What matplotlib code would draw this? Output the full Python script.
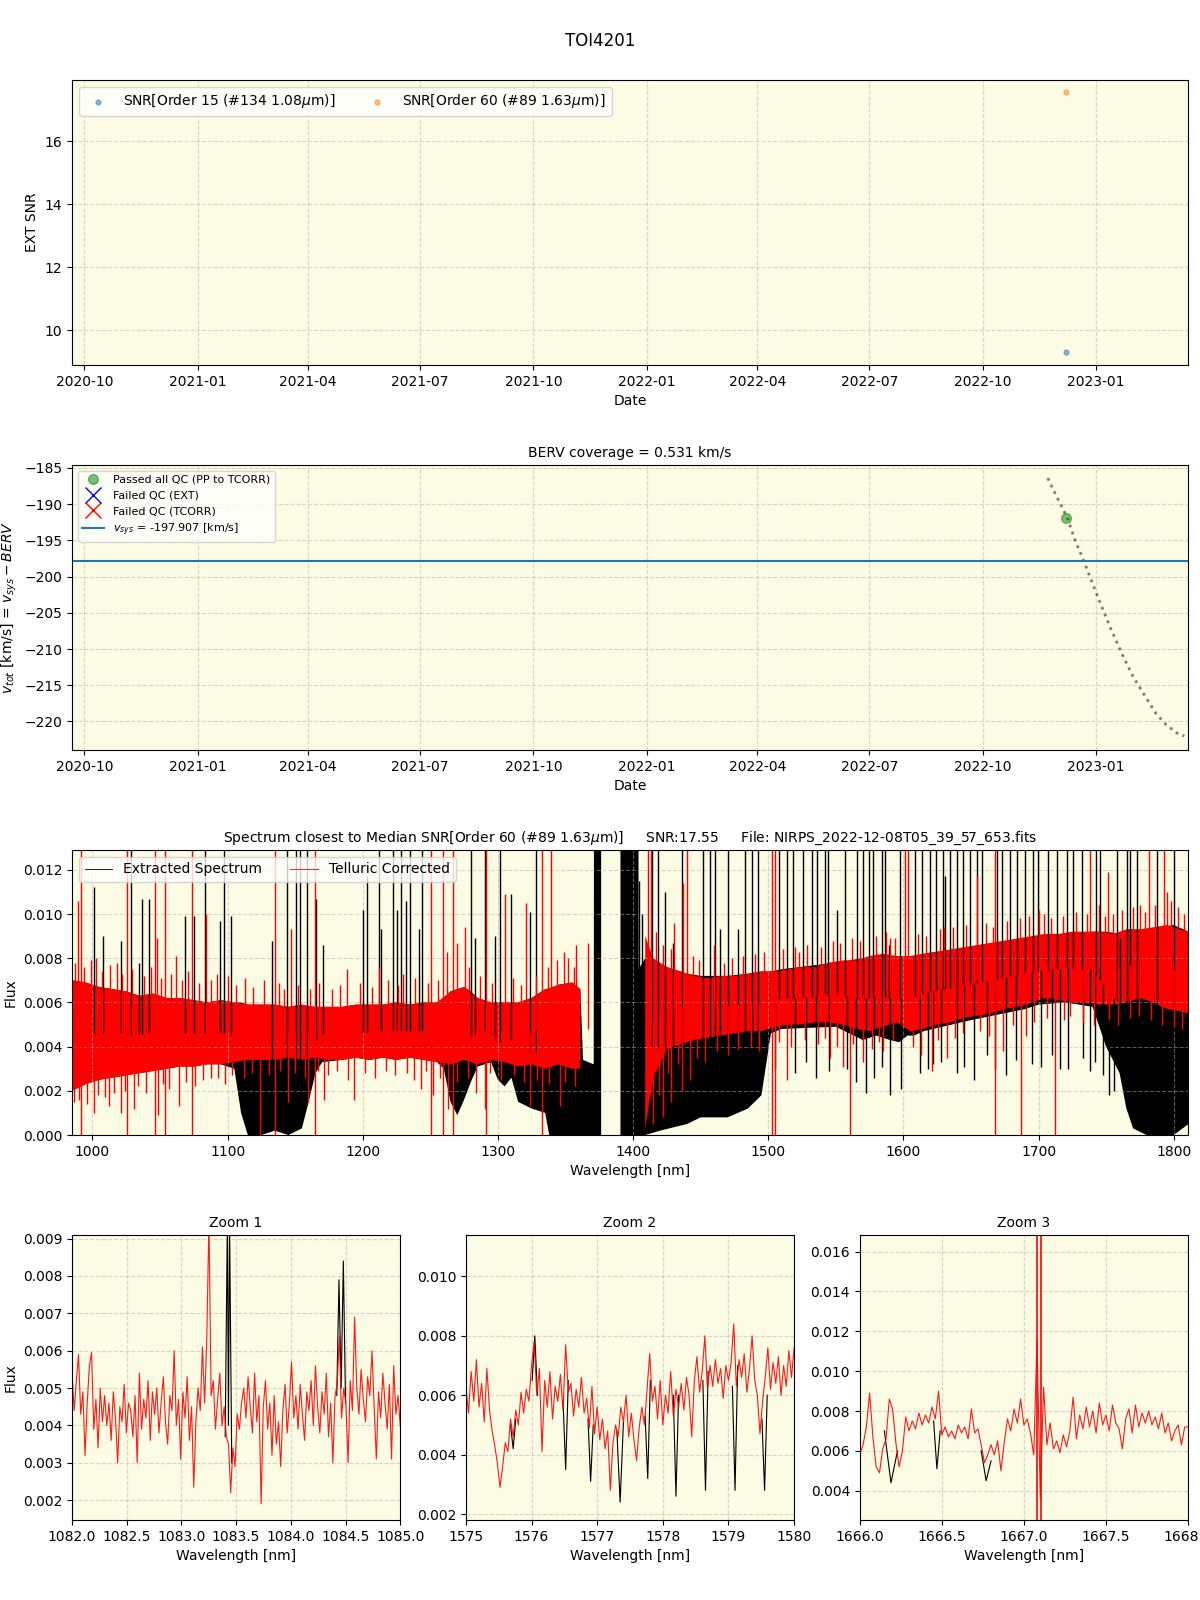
"""TOI4201 quick-look: SNR history, BERV coverage and the median-SNR spectrum."""
import numpy as np
import pandas as pd
import matplotlib
matplotlib.use('Agg')
import matplotlib.pyplot as plt
import matplotlib.dates as mdates

nan = np.nan

# --- observation summary ---
obs_dates = pd.to_datetime(['2022-12-08'])
snr_order15 = [9.32]
snr_order60 = [17.56]
vtot_obs = [-191.9]
v_sys = -197.907

# BERV track (v_sys - BERV)
berv_dates = pd.to_datetime(['2022-11-23', '2022-12-01', '2022-12-09', '2022-12-15',
                             '2022-12-22', '2023-01-02', '2023-01-13', '2023-01-23',
                             '2023-01-31', '2023-02-09', '2023-02-19', '2023-02-27',
                             '2023-03-08', '2023-03-14'])
berv_vtot = [-186.4, -189.2, -191.9, -194.9, -197.7, -202.5, -207.1, -210.9,
             -213.7, -216.2, -218.9, -220.4, -221.6, -222.0]

# --- full spectrum, flux in units of 1e-3 ---
# telluric corrected: envelope of the dense noise band
red_wl = [985, 995, 1005, 1015, 1025, 1035, 1045, 1055, 1065, 1075,
          1085, 1095, 1105, 1115, 1125, 1135, 1145, 1155, 1165, 1175,
          1185, 1195, 1205, 1215, 1225, 1235, 1245, 1255, 1265, 1275,
          1285, 1295, 1305, 1315, 1325, 1335, 1345, 1355, 1361,
          1385,
          1409, 1415, 1425, 1435, 1445, 1455, 1465, 1475, 1485, 1495,
          1505, 1515, 1525, 1535, 1545, 1555, 1565, 1575, 1585, 1595,
          1605, 1615, 1625, 1635, 1645, 1655, 1665, 1675, 1685, 1695,
          1705, 1715, 1725, 1735, 1745, 1755, 1765, 1775, 1785, 1795,
          1805, 1811]
red_hi = [7.0, 6.9, 6.7, 6.6, 6.5, 6.3, 6.4, 6.2, 6.2, 6.1,
          6.0, 6.1, 6.0, 5.9, 5.9, 5.9, 5.8, 5.9, 5.8, 5.8,
          5.8, 5.9, 5.9, 5.9, 6.0, 5.9, 6.0, 6.0, 6.5, 6.7,
          6.2, 6.0, 6.0, 6.0, 6.2, 6.6, 6.8, 6.9, 6.6,
          nan,
          9.0, 8.0, 7.6, 7.4, 7.2, 7.1, 7.2, 7.2, 7.3, 7.4,
          7.4, 7.5, 7.6, 7.6, 7.8, 7.9, 7.9, 8.1, 8.2, 8.1,
          8.1, 8.2, 8.3, 8.4, 8.5, 8.6, 8.7, 8.8, 8.9, 9.0,
          9.1, 9.1, 9.2, 9.2, 9.2, 9.1, 9.3, 9.3, 9.4, 9.5,
          9.3, 9.2]
red_lo = [2.0, 2.3, 2.5, 2.6, 2.7, 2.8, 2.9, 3.0, 3.1, 3.1,
          3.2, 3.2, 3.3, 3.4, 3.4, 3.4, 3.5, 3.4, 3.5, 3.4,
          3.4, 3.5, 3.4, 3.5, 3.4, 3.5, 3.4, 3.3, 3.2, 3.4,
          3.2, 3.4, 3.3, 3.1, 3.2, 3.0, 3.2, 3.0, 3.0,
          nan,
          0.3, 2.6, 3.9, 4.1, 4.3, 4.4, 4.5, 4.6, 4.7, 4.7,
          4.9, 5.0, 5.0, 5.1, 5.1, 5.0, 4.8, 4.7, 4.9, 5.1,
          4.7, 4.8, 5.0, 5.1, 5.3, 5.4, 5.5, 5.7, 5.8, 6.0,
          6.2, 6.1, 6.0, 6.0, 5.9, 5.9, 6.0, 6.2, 6.0, 5.7,
          5.6, 5.5]

# ragged fringe of the telluric corrected band
red_fringe_hi_wl = [987, 994, 999, 1007, 1013, 1022, 1029, 1038, 1043, 1051,
                    1058, 1066, 1071, 1079, 1088, 1092, 1106, 1113, 1119, 1127,
                    1138, 1142, 1152, 1161, 1168, 1177, 1183, 1198, 1207, 1219,
                    1226, 1239, 1248, 1256, 1262, 1270, 1279, 1287, 1296, 1311,
                    1317, 1328, 1337, 1344, 1352, 1356,
                    1417, 1422, 1428, 1444, 1449, 1467, 1473, 1481, 1490, 1497,
                    1511, 1523, 1529, 1539, 1548, 1553, 1562, 1568, 1580, 1587,
                    1594, 1611, 1617, 1627, 1637, 1646, 1661, 1666, 1677, 1686,
                    1693, 1704, 1709, 1718, 1728, 1736, 1749, 1755, 1762, 1770,
                    1779, 1786, 1798, 1803, 1808]
red_fringe_hi_fx = [7.8, 7.6, 7.9, 7.4, 7.7, 7.3, 7.5, 7.2, 7.6, 7.1,
                    7.3, 7.0, 7.4, 6.9, 7.0, 7.3, 6.8, 7.1, 6.7, 7.0,
                    6.9, 6.6, 6.8, 6.6, 6.9, 6.6, 6.8, 6.9, 6.7, 7.0,
                    6.8, 7.1, 6.9, 7.0, 8.3, 8.7, 7.6, 7.2, 6.9, 7.1,
                    6.8, 7.2, 7.6, 7.9, 8.0, 7.6,
                    9.2, 8.6, 8.4, 8.1, 7.9, 7.8, 8.0, 8.1, 8.2, 8.3,
                    8.4, 8.3, 8.6, 8.5, 8.8, 8.7, 8.9, 8.8, 9.0, 9.2,
                    8.9, 9.1, 9.0, 9.3, 9.4, 9.5, 9.6, 9.4, 9.7, 9.8,
                    9.9, 10.0, 9.8, 9.9, 10.1, 10.0, 9.9, 10.0, 10.2, 10.3,
                    10.1, 10.4, 10.6, 10.3, 10.0]
red_fringe_lo_wl = [990, 996, 1004, 1009, 1016, 1024, 1034, 1040, 1052, 1057,
                    1069, 1076, 1082, 1093, 1098, 1103, 1112, 1118, 1131, 1139,
                    1150, 1157, 1167, 1174, 1181, 1189, 1202, 1209, 1217, 1224,
                    1233, 1238, 1247, 1257, 1270, 1278, 1294, 1302, 1312, 1319,
                    1329, 1338, 1350, 1357,
                    1419, 1426, 1433, 1447, 1453, 1462, 1470, 1478, 1487, 1493,
                    1508, 1517, 1527, 1537, 1542, 1551, 1563, 1577, 1582, 1592,
                    1607, 1613, 1626, 1638, 1644, 1657, 1663, 1681, 1697, 1706,
                    1719, 1723, 1733, 1741, 1752, 1759, 1768, 1774, 1783, 1791,
                    1800, 1806]
red_fringe_lo_fx = [1.6, 1.4, 1.8, 1.7, 1.9, 2.0, 2.2, 1.9, 2.3, 2.1,
                    2.4, 2.2, 2.5, 2.6, 2.3, 2.7, 2.6, 2.8, 2.7, 2.9,
                    2.8, 2.6, 2.9, 2.7, 2.9, 2.5, 2.8, 2.6, 2.9, 2.7,
                    2.8, 2.5, 2.9, 2.6, 2.4, 2.6, 2.8, 2.5, 2.7, 2.4,
                    2.5, 2.3, 2.4, 2.2,
                    1.8, 2.8, 3.2, 3.5, 3.3, 3.8, 3.6, 3.9, 4.0, 3.8,
                    4.2, 4.0, 4.3, 4.1, 4.4, 4.0, 4.1, 3.9, 4.2, 4.3,
                    4.0, 3.6, 4.3, 4.4, 4.6, 4.7, 4.5, 5.0, 5.1, 5.3,
                    5.2, 5.4, 5.1, 5.0, 5.2, 5.0, 5.3, 5.4, 5.2, 5.0,
                    4.9, 4.8]

# extracted spectrum: envelope (deep telluric bands reach zero)
black_wl = [985, 995, 1005, 1015, 1025, 1035, 1045, 1055, 1065, 1075,
            1085, 1095, 1105, 1110, 1115, 1125, 1135, 1145, 1155, 1160,
            1165, 1170, 1185, 1195, 1205, 1215, 1225, 1235, 1245, 1255,
            1260, 1265, 1270, 1275, 1280, 1285, 1295, 1300, 1305, 1310,
            1315, 1325, 1335, 1338, 1345, 1355, 1361, 1363, 1370.9, 1371.1,
            1376.4, 1383, 1390.7, 1404, 1404.2, 1409, 1420, 1440, 1450, 1470,
            1485, 1495, 1502, 1510, 1550, 1560, 1570, 1580, 1590, 1597,
            1603, 1608, 1615, 1650, 1690, 1700, 1720, 1740, 1750, 1760,
            1765, 1770, 1780, 1790, 1800, 1811]
black_hi = [7.0, 6.9, 6.7, 6.6, 6.5, 6.3, 6.4, 6.2, 6.2, 6.1,
            6.0, 6.1, 6.0, 6.0, 5.9, 5.9, 5.9, 5.8, 5.9, 5.8,
            5.8, 5.8, 5.8, 5.9, 5.9, 5.9, 6.0, 5.9, 6.0, 6.0,
            6.2, 6.5, 6.6, 6.7, 6.5, 6.2, 6.0, 6.0, 6.0, 6.0,
            6.0, 6.2, 6.6, 6.6, 6.8, 6.9, 6.6, 3.4, 3.2, 14,
            14, nan, 14, 14, 7.5, 8.0, 7.7, 7.3, 7.2, 7.2,
            7.3, 7.4, 7.4, 7.5, 7.8, 7.9, 8.0, 8.1, 8.1, 8.1,
            8.1, 8.1, 8.2, 8.5, 8.9, 9.0, 9.1, 9.2, 9.2, 9.1,
            9.3, 9.3, 9.3, 9.4, 9.5, 9.2]
black_lo = [2.0, 2.3, 2.5, 2.6, 2.7, 2.8, 2.9, 3.0, 3.1, 3.1,
            3.2, 3.2, 3.0, 1.0, 0.0, 0.0, 0.2, 0.0, 0.3, 1.5,
            2.8, 3.3, 3.4, 3.5, 3.4, 3.5, 3.4, 3.5, 3.4, 3.3,
            3.0, 1.5, 0.9, 1.6, 2.4, 3.1, 3.3, 2.5, 2.2, 2.6,
            1.5, 1.2, 1.0, 0.0, 0.0, 0.0, 0.0, 0.0, 0.0, 0.0,
            0.0, nan, 0.0, 0.0, 0.0, 0.0, 0.2, 0.5, 0.8, 0.8,
            1.2, 1.8, 4.6, 4.8, 4.9, 4.6, 4.3, 4.5, 4.3, 4.2,
            4.5, 4.5, 4.7, 5.2, 5.7, 5.9, 6.0, 5.8, 4.0, 2.8,
            1.2, 0.3, 0.0, 0.0, 0.0, 0.5]

# extracted spectrum emission-like spikes (14 = beyond the top of the axis)
black_spike_wl = [1001.1, 1008.2, 1020.8, 1028.2, 1034.4, 1036.9, 1041.6, 1068.2, 1075.1, 1083.0,
                  1094.6, 1097.1, 1102.8, 1133.1, 1144.0, 1150.9, 1153.3, 1158.8, 1165.2, 1170.6,
                  1200.2, 1203.2, 1212.1, 1213.3, 1222.4, 1225.6, 1228.6, 1232.3, 1235.3, 1241.7,
                  1244.2, 1280.4, 1283.4, 1290.5, 1298.2, 1301.9, 1310.0, 1323.6, 1328.5, 1404.5,
                  1406.5, 1413.7, 1418.6, 1423.6, 1429.7, 1435.9, 1451.9, 1456.9, 1460.6, 1464.3,
                  1470.4, 1477.8, 1482.8, 1487.7, 1492.6, 1508.2, 1513.6, 1518.6, 1526.0, 1532.1,
                  1535.8, 1542.0, 1544.5, 1550.6, 1556.8, 1565.4, 1570.4, 1574.8, 1577.8, 1583.9,
                  1586.4, 1589.6, 1597.5, 1608.6, 1613.6, 1619.7, 1624.2, 1629.6, 1631.0, 1634.5,
                  1639.5, 1644.4, 1649.3, 1654.3, 1658.0, 1669.6, 1672.8, 1679.0, 1683.9, 1690.0,
                  1695.7, 1699.9, 1707.3, 1713.5, 1720.9, 1725.8, 1732.0, 1742.6, 1745.6, 1757.9,
                  1760.0, 1765.3, 1767.8, 1772.7, 1787.5, 1799.9]
black_spike_fx = [11.2, 9.0, 8.8, 14, 7.8, 10.7, 10.7, 9.9, 9.9, 14,
                  9.7, 14, 9.9, 8.8, 14, 14, 14, 14, 10.7, 8.6,
                  10.2, 11.7, 14, 9.3, 14, 10.2, 14, 10.6, 14, 9.3,
                  14, 14, 8.9, 14, 9.0, 14, 10.9, 10.1, 14, 11.5,
                  10.0, 14, 14, 11.0, 8.7, 14, 14, 14, 14, 9.3,
                  14, 9.3, 14, 14, 14, 14, 14, 14, 14, 14,
                  14, 14, 14, 10.2, 14, 14, 14, 14, 14, 14,
                  14, 8.6, 14, 14, 14, 14, 14, 14, 11.7, 14,
                  14, 14, 14, 14, 14, 14, 14, 14, 14, 14,
                  14, 14, 14, 14, 14, 14, 14, 14, 14, 14,
                  8.9, 14, 14, 14, 14, 14]
black_dip_wl = [1505, 1520, 1528, 1535, 1545, 1558, 1565, 1572, 1578, 1584,
                1590, 1598, 1612, 1618, 1622, 1628, 1640, 1645, 1652, 1662,
                1668, 1676, 1683, 1695, 1702, 1710, 1716, 1722, 1733, 1738,
                1742, 1747.6, 1752.5, 1756]
black_dip_fx = [3.0, 2.8, 3.3, 2.6, 2.9, 3.0, 2.4, 1.9, 2.6, 3.1,
                1.8, 2.1, 2.8, 3.0, 3.2, 3.3, 2.8, 3.1, 2.5, 3.6,
                3.0, 2.7, 3.4, 3.2, 3.1, 3.6, 3.0, 3.0, 3.5, 2.9,
                3.3, 2.7, 1.8, 2.0]

# telluric corrected residual spikes
red_tip_wl = [989.2, 1003, 1018, 1047.5, 1062, 1083.7, 1100, 1147.1, 1188, 1212,
              1230, 1275.5, 1305.1, 1320.6, 1348.8, 1358, 1366.8, 1430, 1437, 1460,
              1520, 1590, 1630, 1654.3, 1700, 1745, 1751.7, 1775, 1795]
red_tip_fx = [10.6, 8.0, 7.8, 8.9, 8.1, 10.0, 7.2, 9.3, 7.5, 7.6,
              7.3, 9.4, 10.9, 10.5, 8.3, 8.6, 8.7, 9.6, 11.4, 8.6,
              8.5, 8.9, 9.4, 11.7, 10.2, 10.4, 11.9, 10.4, 11.0]
red_dip_wl = [986.7, 1001.5, 1012.6, 1021.2, 1031.1, 1048.3, 1064.4, 1087.8, 1144.5, 1159.3,
              1171.6, 1193.3, 1243.4, 1252, 1263, 1284.1, 1290.3, 1323.6, 1332.3, 1345.8,
              1415, 1422, 1428, 1436, 1442, 1513.6, 1545.7, 1555.6, 1570.4, 1585.2,
              1621, 1632, 1674, 1691]
red_dip_fx = [1.5, 1.0, 1.3, 1.0, 1.2, 0.9, 1.3, 2.6, 1.5, 1.5,
              1.6, 1.6, 2.1, 1.8, 1.2, 1.9, 1.2, 1.3, 2.2, 1.3,
              0.5, 0.8, 1.5, 2.0, 2.5, 2.5, 3.5, 3.1, 3.3, 3.8,
              2.9, 3.5, 3.8, 4.5]
red_full_wl = [991.7, 1025.3, 1046.3, 1053.7, 1073.9, 1134.8, 1164.8, 1250.3, 1259.5, 1266.9,
               1291.0, 1333.0, 1502.5, 1505.0, 1667.9]
red_top_wl = [1339.6, 1411.0, 1413.0, 1440.0, 1601.2, 1603.5, 1738.2, 1781.9, 1792.5]
red_drop_wl = [1124.2, 1560.5, 1687.1, 1712.3]

# --- zoom windows (flux in 1e-3) ---
z1_range = (1082.0, 1085.0)
z1_red = [5.4, 4.4, 5.2, 5.9, 4.3, 4.9, 3.2, 4.6, 5.6, 5.95, 3.9,
          4.7, 3.4, 5.0, 4.1, 4.8, 4.0, 4.6, 3.6, 4.9, 4.2,
          3.0, 4.5, 4.1, 5.1, 3.8, 4.6, 4.4, 3.7, 4.8, 3.0,
          5.4, 3.9, 4.7, 4.2, 5.2, 3.6, 4.9, 4.3, 5.0, 3.8,
          4.6, 5.3, 4.1, 3.5, 4.8, 4.4, 6.0, 4.0, 4.7, 3.1,
          4.9, 4.2, 5.3, 3.6, 4.5, 2.35, 4.1, 5.0, 4.4, 6.1,
          4.6, 6.3, 9.5, 4.8, 5.2, 3.9, 4.7, 5.4, 4.0, 4.5,
          3.7, 3.5, 2.2, 3.4, 2.9, 4.3, 3.9, 4.6, 5.0, 4.2,
          5.3, 4.5, 3.8, 5.4, 4.1, 4.8, 1.9, 4.5, 5.2, 3.9,
          4.6, 3.2, 4.8, 3.5, 4.1, 2.9, 4.4, 5.1, 3.8, 4.6,
          5.7, 4.2, 4.8, 3.9, 5.1, 4.3, 3.6, 4.9, 4.4, 5.2,
          4.0, 5.6, 4.5, 3.8, 4.9, 4.3, 5.4, 3.7, 4.6, 3.0,
          4.8, 5.1, 6.4, 4.2, 5.0, 4.6, 3.0, 5.2, 4.4, 6.9,
          5.0, 4.3, 5.5, 4.7, 4.1, 5.3, 4.8, 6.0, 4.5, 3.1,
          4.9, 4.2, 5.4, 4.6, 3.9, 5.1, 3.1, 5.6, 4.3, 4.8, 4.0]
z1_black_wl = [1083.40, 1083.42, 1083.43, 1083.44, 1083.46, nan,
               1084.42, 1084.44, 1084.46, 1084.48, 1084.50]
z1_black_fx = [3.7, 9.5, 4.0, 9.5, 3.0, nan,
               4.8, 7.9, 5.0, 8.4, 4.6]

z2_range = (1575.0, 1580.0)
z2_red = [6.3, 5.4, 6.8, 5.8, 7.2, 5.6, 6.4, 5.1, 6.9, 5.5,
          4.8, 4.3, 3.7, 2.9, 3.6, 4.4, 4.1, 5.2, 4.6, 5.5,
          5.0, 6.1, 5.4, 6.2, 5.8, 7.0, 7.8, 6.0, 6.9, 4.1,
          6.5, 5.6, 6.8, 5.2, 6.3, 5.8, 6.7, 5.5, 7.7, 6.1,
          6.4, 5.3, 6.2, 5.6, 6.6, 5.4, 5.9, 4.9, 6.3, 4.7,
          5.6, 4.5, 5.2, 4.2, 4.8, 2.8, 4.4, 5.0, 4.6, 5.6,
          5.1, 6.0, 4.6, 5.4, 4.5, 3.8, 4.9, 5.6, 5.0, 6.2,
          7.4, 5.8, 6.3, 5.2, 6.5, 5.0, 6.0, 5.4, 6.8, 5.3,
          6.2, 5.6, 6.4, 5.5, 6.6, 6.0, 4.6, 6.5, 7.3, 6.1,
          6.8, 8.0, 6.2, 7.0, 6.3, 7.2, 6.4, 6.9, 5.9, 7.0,
          6.5, 7.1, 8.4, 6.3, 7.2, 6.6, 7.4, 6.1, 6.9, 8.0,
          6.5, 6.0, 4.7, 5.8, 6.6, 7.6, 6.2, 7.1, 6.4, 7.3,
          6.0, 7.0, 6.3, 7.5, 6.6, 7.6]
z2_black_wl = [1575.68, 1575.72, 1575.76, nan, 1576.01, 1576.05, 1576.09, nan,
               1576.48, 1576.52, 1576.56, nan, 1576.86, 1576.90, 1576.94, nan,
               1577.30, 1577.35, 1577.40, nan, 1577.73, 1577.77, 1577.81, nan,
               1578.16, 1578.20, 1578.24, nan, 1578.61, 1578.65, 1578.69, nan,
               1579.06, 1579.10, 1579.14, nan, 1579.51, 1579.55, 1579.59]
z2_black_fx = [5.0, 4.2, 5.2, nan, 6.5, 8.0, 6.0, nan,
               5.8, 3.5, 6.5, nan, 5.2, 3.1, 5.0, nan,
               4.8, 2.4, 5.1, nan, 5.3, 3.2, 6.5, nan,
               6.0, 2.6, 6.0, nan, 6.5, 2.8, 6.8, nan,
               6.3, 2.8, 7.0, nan, 5.2, 2.8, 6.0]

z3_range = (1666.0, 1668.0)
z3_red = [5.8, 6.3, 7.2, 8.9, 6.7, 5.2, 4.9, 6.1, 6.6, 8.6,
          8.1, 6.4, 5.2, 6.0, 7.7, 7.0, 7.5, 7.1, 7.9, 7.3,
          7.8, 7.4, 8.2, 7.6, 9.0, 6.8, 7.2, 6.7, 7.0, 6.6,
          7.3, 6.9, 7.2, 6.6, 8.1, 6.9, 7.1, 6.3, 5.4, 5.8,
          6.3, 5.8, 6.5, 5.0, 6.4, 7.6, 7.0, 8.1, 7.4, 8.6,
          7.3, 7.6, 6.9, 5.8, 11.6, 3.6, 9.2, 6.3, 7.4, 6.1,
          6.5, 5.9, 6.8, 6.2, 7.0, 8.7, 6.6, 7.8, 7.1, 8.2,
          7.2, 8.0, 6.9, 8.4, 7.3, 7.8, 7.0, 8.3, 7.4, 7.1,
          6.1, 7.6, 8.1, 6.9, 8.3, 7.2, 7.9, 7.4, 8.0, 7.3,
          7.7, 7.1, 7.9, 6.9, 7.4, 6.5, 7.0, 7.3, 6.3, 7.2,
          7.2]
z3_black_wl = [1666.15, 1666.19, 1666.23, nan, 1666.45, 1666.47, 1666.49, nan,
               1666.74, 1666.77, 1666.80]
z3_black_fx = [7.0, 4.4, 6.0, nan, 7.5, 5.1, 7.0, nan,
               6.0, 4.5, 5.5]
z3_red_spike_wl = [1667.08, 1667.105]

BG = '#fcfbe3'
E3 = 1e-3

fig = plt.figure(figsize=(12, 16), dpi=100)
gs = fig.add_gridspec(4, 3, left=0.06, right=0.99, bottom=0.05, top=0.95,
                      hspace=0.35, wspace=0.2)
fig.suptitle('TOI4201', fontsize=12)

date_lim = (pd.Timestamp('2020-09-21'), pd.Timestamp('2023-03-17'))


def style_dates(ax):
    ax.xaxis.set_major_locator(mdates.MonthLocator(bymonth=[1, 4, 7, 10]))
    ax.xaxis.set_major_formatter(mdates.DateFormatter('%Y-%m'))
    ax.set_xlim(*date_lim)
    ax.set_xlabel('Date')


def scaled(values):
    return np.array(values, dtype=float) * E3


def band_centre(wl_nodes, lo, hi, at):
    """Middle of an envelope at the given wavelengths (used as spike anchor)."""
    wl_nodes = np.asarray(wl_nodes, dtype=float)
    centre = (np.asarray(lo, dtype=float) + np.asarray(hi, dtype=float)) / 2
    ok = np.isfinite(centre)
    return np.interp(at, wl_nodes[ok], centre[ok]) * E3


# panel 1: SNR vs date
ax1 = fig.add_subplot(gs[0, :])
ax1.set_facecolor(BG)
ax1.scatter(obs_dates, snr_order15, s=12, alpha=0.5, label=r'SNR[Order 15 (#134 1.08$\mu$m)]')
ax1.scatter(obs_dates, snr_order60, s=12, alpha=0.5, label=r'SNR[Order 60 (#89 1.63$\mu$m)]')
ax1.set_ylim(8.9, 17.95)
ax1.set_ylabel('EXT SNR')
style_dates(ax1)
ax1.grid(True, linestyle='--', alpha=0.5)
ax1.legend(loc='upper left', ncol=2)

# panel 2: BERV coverage
ax2 = fig.add_subplot(gs[1, :])
ax2.set_facecolor(BG)
ax2.plot(berv_dates, berv_vtot, ':', color='k', alpha=0.5, lw=2)
ax2.plot(obs_dates, vtot_obs, 'o', color='green', alpha=0.5, ms=7,
         label='Passed all QC (PP to TCORR)')
ax2.plot([], [], 'x', color='blue', ms=12, label='Failed QC (EXT)')
ax2.plot([], [], 'x', color='red', ms=12, label='Failed QC (TCORR)')
ax2.axhline(v_sys, color='C0', lw=1.5, label=r'$v_{sys}$ = %.3f [km/s]' % v_sys)
ax2.set_ylim(-223.95, -184.58)
ax2.set_ylabel(r'$v_{tot}$ [km/s] = $v_{sys} - BERV$')
ax2.set_title('BERV coverage = 0.531 km/s', fontsize=10)
style_dates(ax2)
ax2.grid(True, linestyle='--', alpha=0.5)
ax2.legend(loc='upper left', fontsize=8)

# panel 3: full spectrum
ax3 = fig.add_subplot(gs[2, :])
ax3.set_facecolor(BG)
top = 14 * E3


def black_mid(at):
    return band_centre(black_wl, black_lo, black_hi, at)


def red_mid(at):
    return band_centre(red_wl, red_lo, red_hi, at)


ax3.fill_between(black_wl, scaled(black_lo), scaled(black_hi), color='k', lw=0)
ax3.vlines(black_spike_wl, black_mid(black_spike_wl), scaled(black_spike_fx), colors='k', lw=1.0)
ax3.vlines(black_dip_wl, scaled(black_dip_fx), black_mid(black_dip_wl), colors='k', lw=1.0)
ax3.fill_between(red_wl, scaled(red_lo), scaled(red_hi), color='red', lw=0)
ax3.vlines(red_fringe_hi_wl, red_mid(red_fringe_hi_wl), scaled(red_fringe_hi_fx), colors='red', lw=1.0)
ax3.vlines(red_fringe_lo_wl, scaled(red_fringe_lo_fx), red_mid(red_fringe_lo_wl), colors='red', lw=1.0)
ax3.vlines(red_tip_wl, red_mid(red_tip_wl), scaled(red_tip_fx), colors='red', lw=1.0)
ax3.vlines(red_dip_wl, scaled(red_dip_fx), red_mid(red_dip_wl), colors='red', lw=1.0)
ax3.vlines(red_top_wl, red_mid(red_top_wl), top, colors='red', lw=1.0)
ax3.vlines(red_drop_wl, 0, red_mid(red_drop_wl), colors='red', lw=1.0)
ax3.vlines(red_full_wl, 0, top, colors='red', lw=1.0)
ax3.plot([], [], color='k', lw=0.6, label='Extracted Spectrum')
ax3.plot([], [], color='red', lw=0.6, label='Telluric Corrected')
ax3.set_xlim(984.9, 1810.6)
ax3.set_ylim(0, 0.0129)
ax3.set_xlabel('Wavelength [nm]')
ax3.set_ylabel('Flux')
ax3.set_title(r'Spectrum closest to Median SNR[Order 60 (#89 1.63$\mu$m)]     SNR:17.55'
              '     File: NIRPS_2022-12-08T05_39_57_653.fits', fontsize=10)
ax3.grid(True, linestyle='--', alpha=0.5)
ax3.legend(loc='upper left', ncol=2)

# bottom row: zooms
zooms = [
    (z1_range, z1_red, z1_black_wl, z1_black_fx, (0.00147, 0.0091), []),
    (z2_range, z2_red, z2_black_wl, z2_black_fx, (0.0018, 0.0114), []),
    (z3_range, z3_red, z3_black_wl, z3_black_fx, (0.00253, 0.01684), z3_red_spike_wl),
]
for k, (rng, red, bwl, bfx, ylim, spikes) in enumerate(zooms):
    ax = fig.add_subplot(gs[3, k])
    ax.set_facecolor(BG)
    wl = np.linspace(rng[0], rng[1], len(red))
    ax.plot(bwl, scaled(bfx), color='k', lw=0.8)
    ax.plot(wl, scaled(red), color='red', lw=0.8, alpha=0.9)
    if spikes:
        ax.vlines(spikes, 0, 1, colors='red', lw=1.2)
    ax.set_xlim(*rng)
    ax.set_ylim(*ylim)
    ax.set_title('Zoom %d' % (k + 1), fontsize=10)
    ax.set_xlabel('Wavelength [nm]')
    if k == 0:
        ax.set_ylabel('Flux')
    ax.grid(True, linestyle='--', alpha=0.5)

fig.savefig('out.png', dpi=100)
